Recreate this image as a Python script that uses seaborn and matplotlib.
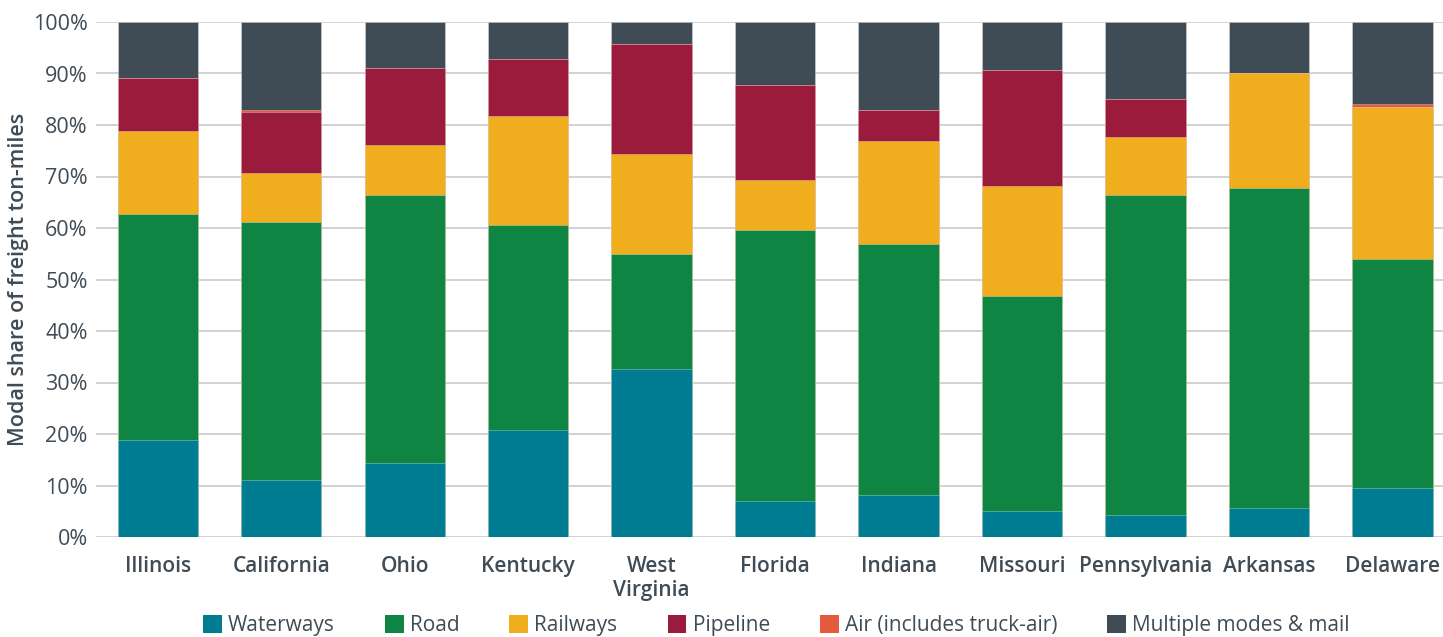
import numpy as np
import pandas as pd
import matplotlib
matplotlib.use("Agg")
import matplotlib.pyplot as plt
from matplotlib.patches import Patch
import seaborn as sns

states = ["Illinois", "California", "Ohio", "Kentucky", "West\nVirginia", "Florida",
          "Indiana", "Missouri", "Pennsylvania", "Arkansas", "Delaware"]
modes = ["Waterways", "Road", "Railways", "Pipeline", "Air (includes truck-air)",
         "Multiple modes & mail"]

waterways = [18.8, 11.1, 14.3, 20.7, 32.6, 7.0, 8.2, 5.1, 4.3, 5.6, 9.6]
road      = [43.9, 50.1, 52.2, 39.9, 22.3, 52.6, 48.7, 41.7, 62.2, 62.1, 44.4]
railways  = [16.2, 9.5, 9.6, 21.2, 19.5, 9.8, 20.0, 21.4, 11.2, 22.3, 29.5]
pipeline  = [10.2, 11.9, 14.9, 11.0, 21.4, 18.3, 6.1, 22.4, 7.4, 0.0, 0.0]
air       = [0.0, 0.4, 0.0, 0.0, 0.0, 0.0, 0.0, 0.0, 0.0, 0.0, 0.6]
multiple  = [10.9, 17.0, 9.0, 7.2, 4.2, 12.3, 17.0, 9.4, 14.9, 10.0, 15.9]

colors = ["#007C92", "#0E8543", "#F0AE1E", "#9B1B3D", "#E55A3C", "#3F4B55"]
text_color = "#3F4B55"

df = pd.DataFrame({"state": states})
series = [waterways, road, railways, pipeline, air, multiple]
cum = np.cumsum(np.array(series), axis=0)

sns.set_theme(style="white")
plt.rcParams["font.family"] = ["Open Sans", "DejaVu Sans"]

fig = plt.figure(figsize=(14.43, 6.37), dpi=100)
ax = fig.add_axes([96 / 1443, 100 / 637, (1443 - 96) / 1443, 515 / 637])

# stacked bars: draw cumulative totals from the top layer down
for i in range(len(modes) - 1, -1, -1):
    d = df.copy()
    d["value"] = cum[i]
    sns.barplot(data=d, x="state", y="value", order=states, color=colors[i],
                width=0.65, saturation=1, ax=ax, errorbar=None,
                edgecolor=(1, 1, 1, 0.35), linewidth=0.6, zorder=3)

ax.set_ylim(0, 100)
ax.set_xlim(-0.5, 10.41)
ax.set_yticks(np.arange(0, 101, 10))
ax.set_yticklabels([f"{v}%" for v in range(0, 101, 10)], fontsize=15.5, color=text_color)
ax.set_xticks(range(len(states)))
ax.set_xticklabels(states, fontsize=15, fontweight="semibold", color=text_color,
                   linespacing=1.15)
ax.tick_params(axis="both", length=0, pad=6)
ax.tick_params(axis="x", pad=14)
ax.grid(axis="y", color="#D2D2D2", linewidth=1.4, zorder=0)
ax.set_axisbelow(True)
for s in ax.spines.values():
    s.set_visible(False)
ax.set_xlabel("")
ax.set_ylabel("Modal share of freight ton-miles", fontsize=15.5, fontweight="semibold",
              color=text_color)
ax.yaxis.set_label_coords(-0.050, 0.5)

handles = [Patch(facecolor=c, edgecolor="none") for c in colors]
fig.legend(handles, modes, loc="lower center", bbox_to_anchor=(0.538, -0.028), ncol=6,
           frameon=False, fontsize=15, handlelength=0.9, handleheight=0.9,
           handletextpad=0.3, columnspacing=2.4, labelcolor=text_color)

fig.savefig("out.png", dpi=100)
